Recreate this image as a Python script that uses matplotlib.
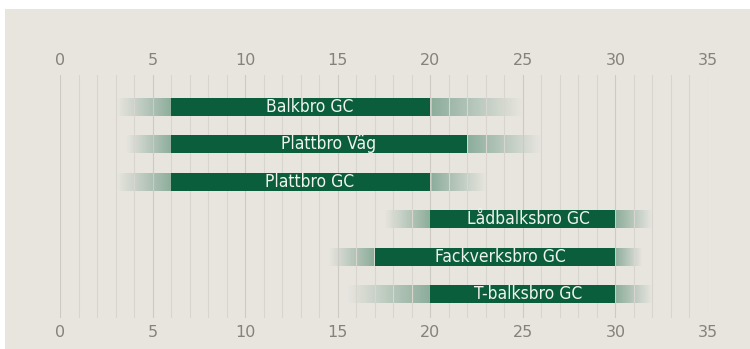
import numpy as np
import matplotlib.pyplot as plt
from matplotlib.patches import Rectangle

names = ['Balkbro GC', 'Plattbro Väg', 'Plattbro GC',
         'Lådbalksbro GC', 'Fackverksbro GC', 'T-balksbro GC']
start = [6, 6, 6, 20, 17, 20]
end = [20, 22, 20, 30, 30, 30]
fade_lo = [3, 3.5, 3, 17.5, 14.5, 15.5]
fade_hi = [25, 26, 23, 32, 31.5, 32]
ticks = [0, 5, 10, 15, 20, 25, 30, 35]

green = '#0b5e3b'
bg = '#e8e5df'

fig = plt.figure(figsize=(7.5, 3.49), dpi=100, facecolor='white')
fig.patches.append(Rectangle((5/750, 0), 1, 1 - 9/349, transform=fig.transFigure,
                             facecolor=bg, edgecolor='none', zorder=-10))
ax = fig.add_axes([60/750, 31/349, 648/750, 243/349])
ax.set_facecolor('none')

# faint grid at every unit
for x in range(0, 36):
    ax.axvline(x, color='#cdcac3' if x % 5 == 0 else '#d8d5ce', lw=0.8, zorder=2)

rgb = np.array([int(green[i:i+2], 16) / 255 for i in (1, 3, 5)])
h = 0.48
for i in range(len(names)):
    # soft fade on both sides of the solid bar
    xs = np.linspace(fade_lo[i], fade_hi[i], 300)
    a = np.zeros_like(xs)
    left = xs < start[i]
    a[left] = 0.42 * (xs[left] - fade_lo[i]) / (start[i] - fade_lo[i])
    right = xs > end[i]
    a[right] = 0.42 * (fade_hi[i] - xs[right]) / (fade_hi[i] - end[i])
    img = np.zeros((1, len(xs), 4))
    img[0, :, :3] = rgb
    img[0, :, 3] = a
    ax.imshow(img, extent=(fade_lo[i], fade_hi[i], i + h/2, i - h/2),
              aspect='auto', interpolation='bilinear', zorder=1)
    ax.barh(i, end[i] - start[i], left=start[i], height=h, color=green, zorder=3)
    cx = (start[i] + end[i]) / 2 + (0.5 if i < 3 else 0.3)
    ax.text(cx, i, names[i], color='#eef3ee', ha='center', va='center',
            fontsize=12.5, family='DejaVu Sans', stretch='condensed', zorder=4)

ax.set_xticks(ticks)
ax.set_yticks([])
ax.tick_params(axis='x', length=0, top=True, labeltop=True, colors='#858279',
               labelsize=11.5, pad=5)
for s in ax.spines.values():
    s.set_visible(False)
ax.set_xlim(0, 35)
ax.set_ylim(5.64, -0.856)

fig.savefig('out.png', dpi=100, facecolor='white')
